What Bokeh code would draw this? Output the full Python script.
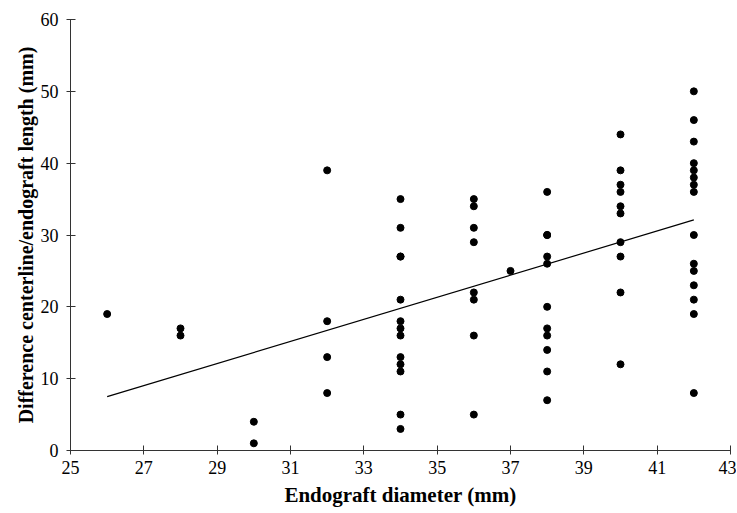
from bokeh.plotting import figure
from bokeh.models import Range1d, FixedTicker
from bokeh.embed import file_html
from bokeh.resources import INLINE

# Endograft diameter (mm) and difference centerline/endograft length (mm)
d26 = [19]
d28 = [17, 16]
d30 = [4, 1]
d32 = [39, 18, 13, 8]
d34 = [35, 31, 27, 27, 21, 18, 17, 16, 13, 12, 11, 5, 3]
d36 = [35, 34, 31, 29, 22, 21, 16, 5]
d37 = [25]
d38 = [36, 30, 30, 27, 26, 20, 17, 16, 14, 11, 7]
d40 = [44, 39, 37, 36, 34, 33, 29, 27, 22, 12]
d42 = [50, 46, 43, 40, 39, 38, 37, 36, 30, 26, 25, 23, 21, 19, 8]

groups = {26: d26, 28: d28, 30: d30, 32: d32, 34: d34, 36: d36,
          37: d37, 38: d38, 40: d40, 42: d42}

trend_x = [26, 42]
trend_y = [7.5, 32.1]

x_ticks = [25, 27, 29, 31, 33, 35, 37, 39, 41, 43]
y_ticks = [0, 10, 20, 30, 40, 50, 60]

xs, ys = [], []
for k, vals in groups.items():
    xs += [k] * len(vals)
    ys += vals

p = figure(width=736, height=513, output_backend="svg", toolbar_location=None,
           x_range=Range1d(25, 43), y_range=Range1d(0, 60),
           min_border_left=70, min_border_right=6, min_border_top=19,
           min_border_bottom=63)
p.outline_line_color = None
p.grid.visible = False

p.line(trend_x, trend_y, line_color="black", line_width=1.2)
p.scatter(xs, ys, size=7, fill_color="black", line_color="black")

FONT = "Liberation Serif"
for ax in (p.xaxis[0], p.yaxis[0]):
    ax.axis_line_color = "#333333"
    ax.major_tick_line_color = "#333333"
    ax.major_tick_in = 5
    ax.major_tick_out = 4
    ax.minor_tick_line_color = None
    ax.major_label_text_font = FONT
    ax.major_label_text_font_size = "18px"
    ax.major_label_text_color = "black"
    ax.axis_label_text_font = FONT
    ax.axis_label_text_font_style = "bold"
    ax.axis_label_text_color = "black"

p.xaxis[0].axis_label_text_font_size = "21px"
p.yaxis[0].axis_label_text_font_size = "20px"
p.xaxis[0].ticker = FixedTicker(ticks=x_ticks)
p.yaxis[0].ticker = FixedTicker(ticks=y_ticks)
p.xaxis[0].axis_label = "Endograft diameter (mm)"
p.yaxis[0].axis_label = "Difference centerline/endograft length (mm)"
p.xaxis[0].major_label_standoff = 6
p.yaxis[0].major_label_standoff = 8
p.xaxis[0].axis_label_standoff = 6
p.yaxis[0].axis_label_standoff = 1

open("out.html", "w").write(file_html(p, INLINE))
